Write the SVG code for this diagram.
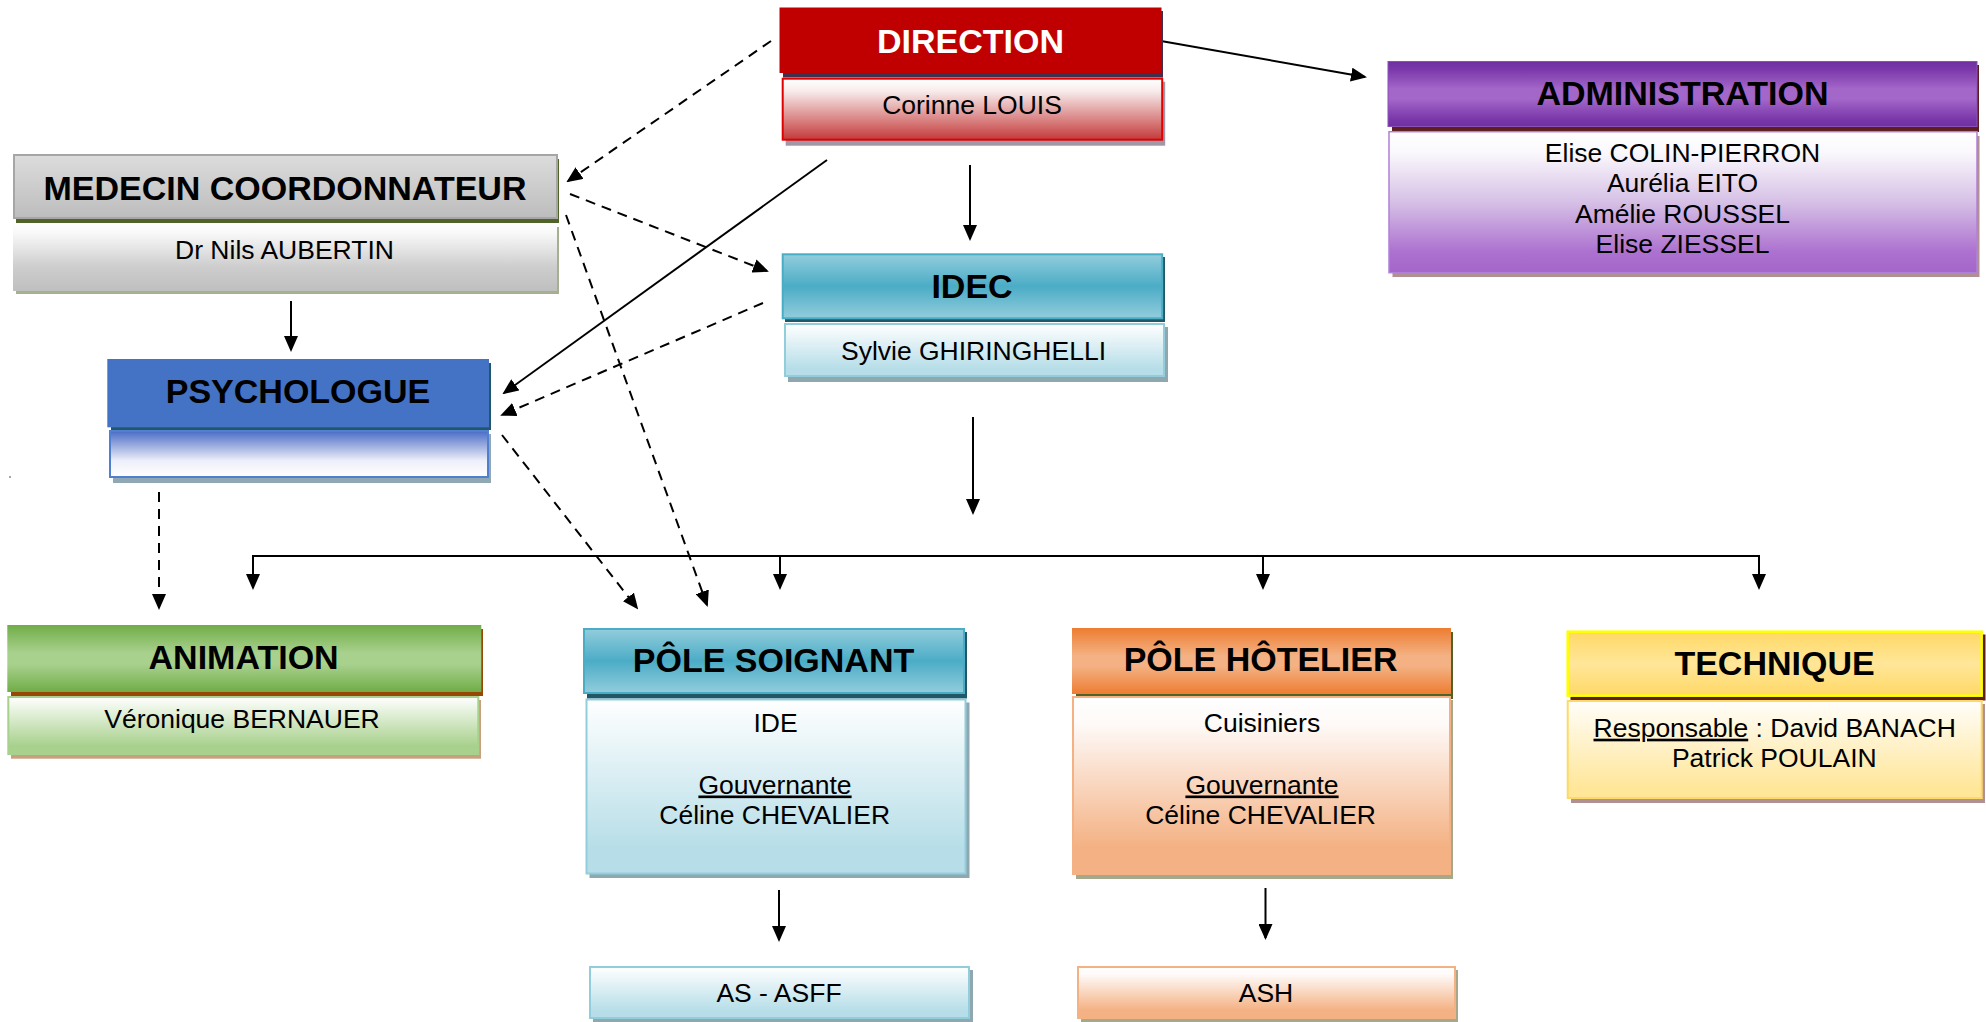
<svg xmlns="http://www.w3.org/2000/svg" width="1986" height="1022" viewBox="0 0 1986 1022">
<style>
.h{font-family:"Liberation Sans",Arial,sans-serif;font-weight:bold;font-size:34px;text-anchor:middle;fill:#000}
.t{font-family:"Liberation Sans",Arial,sans-serif;font-size:26.5px;text-anchor:middle;fill:#000}
.u{text-decoration:underline}
.ln{fill:none;stroke:#000;stroke-width:2}
.ds{fill:none;stroke:#000;stroke-width:2;stroke-dasharray:10 7}
</style>
<defs>
<marker id="ah" markerUnits="userSpaceOnUse" markerWidth="16" markerHeight="14" refX="14" refY="7" orient="auto" viewBox="0 0 16 14">
<path d="M0,0 L16,7 L0,14 z" fill="#000" stroke="none"/>
</marker>
<linearGradient id="gGrayHead" x1="0" y1="0" x2="0" y2="1"><stop offset="0" stop-color="#dcdcdc"/><stop offset="1" stop-color="#bdbdbd"/></linearGradient>
<linearGradient id="gGrayBody" x1="0" y1="0" x2="0" y2="1"><stop offset="0" stop-color="#ffffff"/><stop offset="0.15" stop-color="#f8f8f8"/><stop offset="0.65" stop-color="#cdcdcd"/><stop offset="1" stop-color="#bfbfbf"/></linearGradient>
<linearGradient id="gRedBody" x1="0" y1="0" x2="0" y2="1"><stop offset="0" stop-color="#ffffff"/><stop offset="0.2" stop-color="#f8ecec"/><stop offset="1" stop-color="#c43a3a"/></linearGradient>
<linearGradient id="gPurpleHead" x1="0" y1="0" x2="0" y2="1"><stop offset="0" stop-color="#7030a0"/><stop offset="0.12" stop-color="#7a38aa"/><stop offset="0.42" stop-color="#a366c9"/><stop offset="0.58" stop-color="#a366c9"/><stop offset="0.88" stop-color="#7a38aa"/><stop offset="1" stop-color="#7030a0"/></linearGradient>
<linearGradient id="gPurpleBody" x1="0" y1="0" x2="0" y2="1"><stop offset="0" stop-color="#ffffff"/><stop offset="0.15" stop-color="#faf8fc"/><stop offset="0.5" stop-color="#d6c0e6"/><stop offset="0.85" stop-color="#ad72d0"/><stop offset="1" stop-color="#a366c9"/></linearGradient>
<linearGradient id="gTealHead" x1="0" y1="0" x2="0" y2="1"><stop offset="0" stop-color="#92cddc"/><stop offset="0.5" stop-color="#4bacc6"/><stop offset="1" stop-color="#92cddc"/></linearGradient>
<linearGradient id="gTealBody" x1="0" y1="0" x2="0" y2="1"><stop offset="0" stop-color="#ffffff"/><stop offset="0.85" stop-color="#b7dee8"/><stop offset="1" stop-color="#b7dee8"/></linearGradient>
<linearGradient id="gBlueBody" x1="0" y1="0" x2="0" y2="1"><stop offset="0" stop-color="#4a6cc6"/><stop offset="0.65" stop-color="#eef0fa"/><stop offset="1" stop-color="#ffffff"/></linearGradient>
<linearGradient id="gGreenHead" x1="0" y1="0" x2="0" y2="1"><stop offset="0" stop-color="#70ad47"/><stop offset="0.42" stop-color="#a9d18e"/><stop offset="0.58" stop-color="#a9d18e"/><stop offset="1" stop-color="#70ad47"/></linearGradient>
<linearGradient id="gGreenBody" x1="0" y1="0" x2="0" y2="1"><stop offset="0" stop-color="#ffffff"/><stop offset="0.85" stop-color="#a9d18e"/><stop offset="1" stop-color="#a9d18e"/></linearGradient>
<linearGradient id="gOrangeHead" x1="0" y1="0" x2="0" y2="1"><stop offset="0" stop-color="#ed7d31"/><stop offset="0.42" stop-color="#f4b183"/><stop offset="0.58" stop-color="#f4b183"/><stop offset="1" stop-color="#ed7d31"/></linearGradient>
<linearGradient id="gOrangeBody" x1="0" y1="0" x2="0" y2="1"><stop offset="0" stop-color="#ffffff"/><stop offset="0.15" stop-color="#fefaf8"/><stop offset="0.85" stop-color="#f4b183"/><stop offset="1" stop-color="#f4b183"/></linearGradient>
<linearGradient id="gYellowHead" x1="0" y1="0" x2="0" y2="1"><stop offset="0" stop-color="#ffd966"/><stop offset="0.5" stop-color="#ffe699"/><stop offset="1" stop-color="#ffd966"/></linearGradient>
<linearGradient id="gYellowBody" x1="0" y1="0" x2="0" y2="1"><stop offset="0" stop-color="#fffefa"/><stop offset="0.9" stop-color="#ffe699"/><stop offset="1" stop-color="#ffe699"/></linearGradient>
</defs>
<rect width="1986" height="1022" fill="#ffffff"/>

<g id="connectors">
<path class="ln" d="M1161,41 L1365,77" marker-end="url(#ah)"/>
<path class="ds" d="M771,41 L568,181" marker-end="url(#ah)"/>
<path class="ln" d="M970,165 L970,239" marker-end="url(#ah)"/>
<path class="ln" d="M827,160 L504,393" marker-end="url(#ah)"/>
<path class="ds" d="M570,194 L767,271" marker-end="url(#ah)"/>
<path class="ds" d="M566,215 L707,605" marker-end="url(#ah)"/>
<path class="ln" d="M291,301 L291,350" marker-end="url(#ah)"/>
<path class="ds" d="M763,303 L502,415" marker-end="url(#ah)"/>
<path class="ds" d="M159,492 L159,608" marker-end="url(#ah)"/>
<path class="ds" d="M502,435 L637,608" marker-end="url(#ah)"/>
<path class="ln" d="M973,417 L973,513" marker-end="url(#ah)"/>
<path class="ln" d="M253,588 L253,556 L1759,556 L1759,588" marker-end="url(#ah)"/>
<path class="ln" d="M253,557 L253,588" marker-end="url(#ah)"/>
<path class="ln" d="M780,557 L780,588" marker-end="url(#ah)"/>
<path class="ln" d="M1263,557 L1263,588" marker-end="url(#ah)"/>
<path class="ln" d="M779,890 L779,940" marker-end="url(#ah)"/>
<path class="ln" d="M1265.5,888 L1265.5,938" marker-end="url(#ah)"/>
<circle cx="10" cy="477" r="1" fill="#888"/>
</g>

<g id="direction">
<rect x="783" y="11" width="380" height="66.5" fill="#403050"/>
<rect x="779.5" y="7.5" width="382" height="65.5" fill="#c00000"/>
<rect x="785.7" y="81.7" width="379.5" height="64" fill="#a098a8"/>
<rect x="782.7" y="78.7" width="379.5" height="61" fill="url(#gRedBody)" stroke="#e00000" stroke-width="2"/>
<text class="h" x="970.5" y="53" fill="#ffffff" style="fill:#ffffff">DIRECTION</text>
<text class="t" x="972" y="113.5">Corinne LOUIS</text>
</g>

<g id="medecin">
<rect x="16" y="159" width="543" height="64" fill="#4f6228"/>
<rect x="14" y="155" width="543" height="63" fill="url(#gGrayHead)" stroke="#a6a6a6" stroke-width="2"/>
<rect x="16" y="227" width="543" height="67" fill="#a5b08f"/>
<rect x="13" y="223" width="544" height="68" fill="url(#gGrayBody)"/>
<text class="h" x="285" y="199.5">MEDECIN COORDONNATEUR</text>
<text class="t" x="284.5" y="259">Dr Nils AUBERTIN</text>
</g>

<g id="administration">
<rect x="1392" y="65" width="587" height="67" fill="#5c1e1e"/>
<rect x="1388" y="61.5" width="589" height="65" fill="url(#gPurpleHead)" stroke="#8a50b8" stroke-width="1"/>
<rect x="1392.5" y="136" width="587" height="141" fill="#b09090"/>
<rect x="1389" y="131.7" width="588" height="141" fill="url(#gPurpleBody)" stroke="#b080d8" stroke-width="1.5"/>
<text class="h" x="1682.5" y="105">ADMINISTRATION</text>
<text class="t" x="1682.5" y="161.5">Elise COLIN-PIERRON</text>
<text class="t" x="1682.5" y="192">Aurélia EITO</text>
<text class="t" x="1682.5" y="222.5">Amélie ROUSSEL</text>
<text class="t" x="1682.5" y="253">Elise ZIESSEL</text>
</g>

<g id="idec">
<rect x="785" y="257" width="380" height="65" fill="#215868"/>
<rect x="782.7" y="254.3" width="379.5" height="64" fill="url(#gTealHead)" stroke="#4bacc6" stroke-width="2"/>
<rect x="788" y="327" width="380" height="55" fill="#8fa8b0"/>
<rect x="785" y="324" width="379" height="52" fill="url(#gTealBody)" stroke="#92cddc" stroke-width="2"/>
<text class="h" x="972" y="297.7">IDEC</text>
<text class="t" x="973.5" y="360">Sylvie GHIRINGHELLI</text>
</g>

<g id="psychologue">
<rect x="111" y="363" width="380" height="67" fill="#215868"/>
<rect x="107.3" y="359" width="381.7" height="68.3" fill="#4472c4"/>
<rect x="113" y="434" width="378" height="49" fill="#90a8b4"/>
<rect x="110" y="431" width="378" height="46" fill="url(#gBlueBody)" stroke="#4f7fd0" stroke-width="2"/>
<text class="h" x="298" y="403.3">PSYCHOLOGUE</text>
</g>

<g id="animation">
<rect x="11" y="629" width="472" height="67" fill="#974706"/>
<rect x="7.3" y="625" width="474" height="67" fill="url(#gGreenHead)"/>
<rect x="11" y="700" width="470" height="58.7" fill="#c8a080"/>
<rect x="8.3" y="697" width="470" height="57" fill="url(#gGreenBody)" stroke="#a9d18e" stroke-width="2"/>
<text class="h" x="243.6" y="669.4">ANIMATION</text>
<text class="t" x="242" y="728">Véronique BERNAUER</text>
</g>

<g id="pole-soignant">
<rect x="587" y="632" width="380" height="66.5" fill="#215868"/>
<rect x="584" y="629" width="380" height="64" fill="url(#gTealHead)" stroke="#4bacc6" stroke-width="2"/>
<rect x="589.5" y="702.5" width="380" height="175.5" fill="#8fa8b0"/>
<rect x="586.5" y="699.5" width="379" height="174" fill="url(#gTealBody)" stroke="#92cddc" stroke-width="2"/>
<text class="h" x="773.5" y="672">PÔLE SOIGNANT</text>
<text class="t" x="775.5" y="732">IDE</text>
<text class="t u" x="775" y="793.5">Gouvernante</text>
<text class="t" x="774.7" y="824">Céline CHEVALIER</text>
</g>

<g id="pole-hotelier">
<rect x="1076" y="632" width="377" height="67" fill="#4f6228"/>
<rect x="1072" y="628" width="379" height="66" fill="url(#gOrangeHead)"/>
<rect x="1076" y="700" width="377" height="179" fill="#a5a88a"/>
<rect x="1073" y="697" width="377" height="177" fill="url(#gOrangeBody)" stroke="#f4b183" stroke-width="2"/>
<text class="h" x="1260.6" y="671">PÔLE HÔTELIER</text>
<text class="t" x="1262" y="732">Cuisiniers</text>
<text class="t u" x="1262" y="793.5">Gouvernante</text>
<text class="t" x="1260.6" y="824">Céline CHEVALIER</text>
</g>

<g id="technique">
<rect x="1570.5" y="634.5" width="415" height="66" fill="#5c1e1e"/>
<rect x="1567.7" y="631.7" width="414" height="64" fill="url(#gYellowHead)" stroke="#ffff00" stroke-width="2.5"/>
<rect x="1571" y="704" width="414" height="99" fill="#b09090"/>
<rect x="1567.7" y="701" width="414" height="97" fill="url(#gYellowBody)" stroke="#ffd966" stroke-width="2"/>
<text class="h" x="1774.5" y="674.6">TECHNIQUE</text>
<text class="t" x="1774.7" y="736.7"><tspan class="u">Responsable</tspan> : David BANACH</text>
<text class="t" x="1774.3" y="767.3">Patrick POULAIN</text>
</g>

<g id="as-asff">
<rect x="593" y="970" width="380" height="52" fill="#8fa8b0"/>
<rect x="590" y="967" width="379" height="51" fill="url(#gTealBody)" stroke="#92cddc" stroke-width="2"/>
<text class="t" x="779" y="1002">AS - ASFF</text>
</g>

<g id="ash">
<rect x="1081" y="970" width="377" height="52" fill="#a5a88a"/>
<rect x="1078" y="967" width="377" height="51" fill="url(#gOrangeBody)" stroke="#f4b183" stroke-width="2"/>
<text class="t" x="1266" y="1002">ASH</text>
</g>
</svg>
